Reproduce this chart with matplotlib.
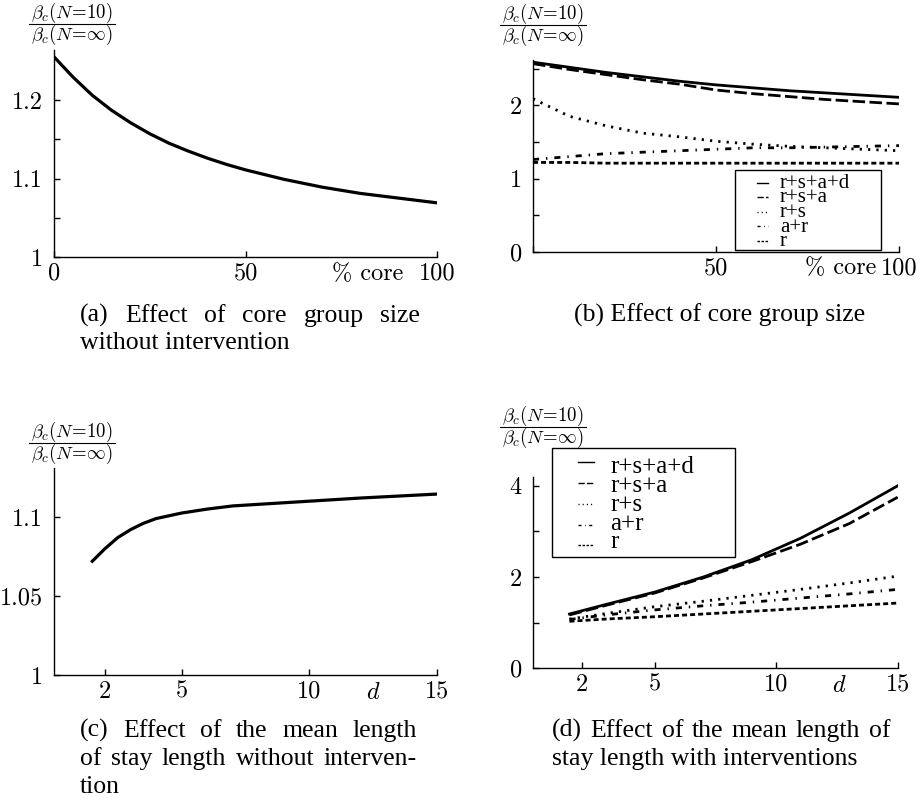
import matplotlib
matplotlib.use("Agg")
import matplotlib.pyplot as plt
from matplotlib.lines import Line2D
from matplotlib.patches import Rectangle

plt.rcParams.update({
    "font.family": "serif",
    "font.serif": ["cmr10"],
    "mathtext.fontset": "cm",
    "axes.unicode_minus": False,
    "axes.formatter.use_mathtext": True,
})

# ---------------- data ----------------
# (a) effect of core group size without intervention
core_a = [0, 5, 10, 15, 20, 25, 30, 35, 40, 45, 50, 55, 60, 65, 70, 75, 80, 85, 90, 95, 100]
ratio_a = [1.255, 1.229, 1.206, 1.187, 1.171, 1.157, 1.145, 1.135, 1.126, 1.118, 1.111,
           1.105, 1.099, 1.094, 1.089, 1.085, 1.081, 1.078, 1.075, 1.072, 1.069]

# (b) effect of core group size with interventions
core_b = [0, 10, 20, 30, 40, 50, 60, 70, 80, 90, 100]
b_rsad = [2.59, 2.52, 2.45, 2.39, 2.33, 2.28, 2.24, 2.20, 2.17, 2.14, 2.11]
b_rsa = [2.57, 2.49, 2.42, 2.35, 2.29, 2.21, 2.16, 2.12, 2.08, 2.05, 2.02]
b_rs = [2.09, 1.85, 1.72, 1.62, 1.57, 1.51, 1.47, 1.44, 1.42, 1.40, 1.38]
b_ar = [1.26, 1.30, 1.34, 1.36, 1.38, 1.40, 1.42, 1.42, 1.43, 1.44, 1.45]
b_r = [1.22, 1.22, 1.21, 1.21, 1.21, 1.21, 1.21, 1.21, 1.21, 1.21, 1.21]

# (c) effect of mean length of stay without intervention
stay_c = [1.5, 2, 2.5, 3, 3.5, 4, 5, 6, 7, 8, 10, 12, 15]
ratio_c = [1.072, 1.080, 1.087, 1.092, 1.096, 1.099, 1.1025, 1.105, 1.107, 1.108, 1.110, 1.112, 1.1145]

# (d) effect of mean length of stay with interventions
stay_d = [1.5, 3, 5, 7, 9, 11, 13, 15]
d_rsad = [1.19, 1.40, 1.67, 2.00, 2.38, 2.85, 3.40, 4.00]
d_rsa = [1.17, 1.38, 1.65, 1.98, 2.34, 2.72, 3.17, 3.75]
d_rs = [1.08, 1.20, 1.35, 1.47, 1.60, 1.73, 1.87, 2.02]
d_ar = [1.07, 1.17, 1.28, 1.37, 1.45, 1.54, 1.63, 1.73]
d_r = [1.03, 1.08, 1.13, 1.19, 1.25, 1.31, 1.37, 1.43]

series_labels = ["r+s+a+d", "r+s+a", "r+s", "a+r", "r"]

a_xticks, a_xlabels = [0, 50, 100], ["0", "50", "100"]
a_yticks, a_ylabels = [1, 1.1, 1.2], ["1", "1.1", "1.2"]
b_xticks, b_xlabels = [0, 50, 100], ["", "50", "100"]
b_yticks, b_ylabels = [0, 1, 2], ["0", "1", "2"]
c_xticks, c_xlabels = [2, 5, 10, 15], ["2", "5", "10", "15"]
c_yticks, c_ylabels = [1, 1.05, 1.1], ["1", "1.05", "1.1"]
d_xticks, d_xlabels = [2, 5, 10, 15], ["2", "5", "10", "15"]
d_yticks, d_ylabels = [0, 2, 4], ["0", "2", "4"]

ylabel_num = r"$\beta_c(N\!=\!10)$"
ylabel_den = r"$\beta_c(N\!=\!\infty)$"

# ---------------- figure ----------------
W, H = 921, 802
fig = plt.figure(figsize=(W / 100, H / 100), dpi=100)
renderer = fig.canvas.get_renderer()
TICKFS = 17.5


def P(x, y):
    return (x / W, 1 - y / H)


def px_axes(l, t, r, b):
    return fig.add_axes([l / W, 1 - b / H, (r - l) / W, (b - t) / H])


def style(ax, xt, xl, yt, yl, xlim, ylim, yminor=None):
    for s in ("top", "right"):
        ax.spines[s].set_visible(False)
    for s in ("left", "bottom"):
        ax.spines[s].set_linewidth(1.0)
    ax.set_xlim(*xlim)
    ax.set_ylim(*ylim)
    ax.set_xticks(xt)
    ax.set_xticklabels(xl)
    ax.set_yticks(yt)
    ax.set_yticklabels(yl)
    if yminor:
        ax.set_yticks(yminor, minor=True)
    ax.tick_params(which="both", direction="in", length=4, width=1, labelsize=TICKFS)
    ax.tick_params(axis="x", pad=4)
    ax.tick_params(axis="y", pad=8)


ST = dict(color="black", lw=2.0)
LS = {
    "r+s+a+d": "-",
    "r+s+a": (0, (4.5, 1.6)),
    "r+s": (0, (0.8, 2.2)),
    "a+r": (0, (2.2, 2.5, 0.5, 2.5)),
    "r": (0, (1.8, 1.1)),
}

# (a)
axA = px_axes(54, 50, 437, 257)
axA.plot(core_a, ratio_a, color="black", lw=2.3)
style(axA, a_xticks, a_xlabels, a_yticks, a_ylabels, (0, 100), (1, 1.2637), [1.05, 1.15])
axA.annotate("% core", xy=(82, 0), xycoords=("data", "axes fraction"), xytext=(0, -4),
             textcoords="offset points", ha="center", va="top", fontsize=TICKFS)

# (b)
axB = px_axes(533, 60, 899, 251.7)
for lab, ys in zip(series_labels, [b_rsad, b_rsa, b_rs, b_ar, b_r]):
    axB.plot(core_b, ys, linestyle=LS[lab], **ST)
style(axB, b_xticks, b_xlabels, b_yticks, b_ylabels, (0, 100), (0, 2.62), [0.5, 1.5, 2.5])
axB.annotate("% core", xy=(84, 0), xycoords=("data", "axes fraction"), xytext=(0, -4),
             textcoords="offset points", ha="center", va="top", fontsize=TICKFS)

# (c)
axC = px_axes(54, 468, 437, 675)
axC.plot(stay_c, ratio_c, color="black", lw=2.3)
style(axC, c_xticks, c_xlabels, c_yticks, c_ylabels, (0, 15), (1, 1.131))
axC.annotate("$d$", xy=(12.5, 0), xycoords=("data", "axes fraction"), xytext=(0, -5),
             textcoords="offset points", ha="center", va="top", fontsize=TICKFS)

# (d)
axD = px_axes(533, 476.7, 897.7, 668.3)
for lab, ys in zip(series_labels, [d_rsad, d_rsa, d_rs, d_ar, d_r]):
    axD.plot(stay_d, ys, linestyle=LS[lab], **ST)
style(axD, d_xticks, d_xlabels, d_yticks, d_ylabels, (0, 15), (0, 4.2), [1, 3])
axD.annotate("$d$", xy=(12.6, 0), xycoords=("data", "axes fraction"), xytext=(0, -5),
             textcoords="offset points", ha="center", va="top", fontsize=TICKFS)


# y labels: fraction built from numerator, bar and denominator
def ylabel_frac(cx, ly, fs=13.5):
    tn = fig.text(*P(cx, ly - 6), ylabel_num, ha="center", va="baseline", fontsize=fs)
    td = fig.text(*P(cx, ly + 16), ylabel_den, ha="center", va="baseline", fontsize=fs)
    w = max(tn.get_window_extent(renderer).width, td.get_window_extent(renderer).width) + 4
    (x0, y0), (x1, _) = P(cx - w / 2, ly), P(cx + w / 2, ly)
    fig.add_artist(Line2D([x0, x1], [y0, y0], transform=fig.transFigure, color="black", lw=0.8))


for cx, ly in [(72, 23.5), (543, 25), (72, 442.5), (543, 426.5)]:
    ylabel_frac(cx, ly)


# legends (drawn manually)
def legend(box, rows_y, hx0, hx1, tx, fs, spacing):
    l, t, r, b = box
    fig.add_artist(Rectangle(P(l, b), (r - l) / W, (b - t) / H, transform=fig.transFigure,
                             fill=False, edgecolor="black", lw=1.0))
    for lab, y in zip(series_labels, rows_y):
        x0, y0 = P(hx0, y)
        x1, _ = P(hx1, y)
        fig.add_artist(Line2D([x0, x1], [y0, y0], transform=fig.transFigure,
                              color="black", lw=1.0, linestyle=LS[lab]))
    cy = sum(rows_y) / len(rows_y)
    fig.text(*P(tx, cy + 1), "\n".join(series_labels), ha="left", va="center", fontsize=fs,
             family="Liberation Serif", linespacing=spacing)


legend((735, 170, 881, 250), [182.5, 197, 211.5, 226, 240.5], 757, 768, 780, 15, 0.68)
legend((552, 448, 735, 557), [462, 483, 504, 525, 545], 578, 594, 610, 18, 0.81)

# captions
CAP = dict(fontsize=18.5, family="Liberation Serif", va="baseline")


def justify(words, x0, x1, y):
    texts = [fig.text(0, 0, w, ha="left", **CAP) for w in words]
    widths = [t.get_window_extent(renderer).width for t in texts]
    gap = ((x1 - x0) - sum(widths)) / (len(words) - 1)
    x = x0
    for t, w in zip(texts, widths):
        t.set_position(P(x, y))
        x += w + gap


justify(["(a)", "Effect", "of", "core", "group", "size"], 80, 420, 322)
fig.text(*P(80, 349), "without intervention", ha="left", **CAP)
fig.text(*P(720, 322), "(b) Effect of core group size", ha="center", **CAP)
justify(["(c)", "Effect", "of", "the", "mean", "length"], 80, 417, 737)
justify(["of", "stay", "length", "without", "interven-"], 80, 417, 765)
fig.text(*P(80, 793), "tion", ha="left", **CAP)
justify(["(d)", "Effect", "of", "the", "mean", "length", "of"], 552, 890, 737)
fig.text(*P(552, 765), "stay length with interventions", ha="left", **CAP)

fig.savefig("out.png", dpi=100)
